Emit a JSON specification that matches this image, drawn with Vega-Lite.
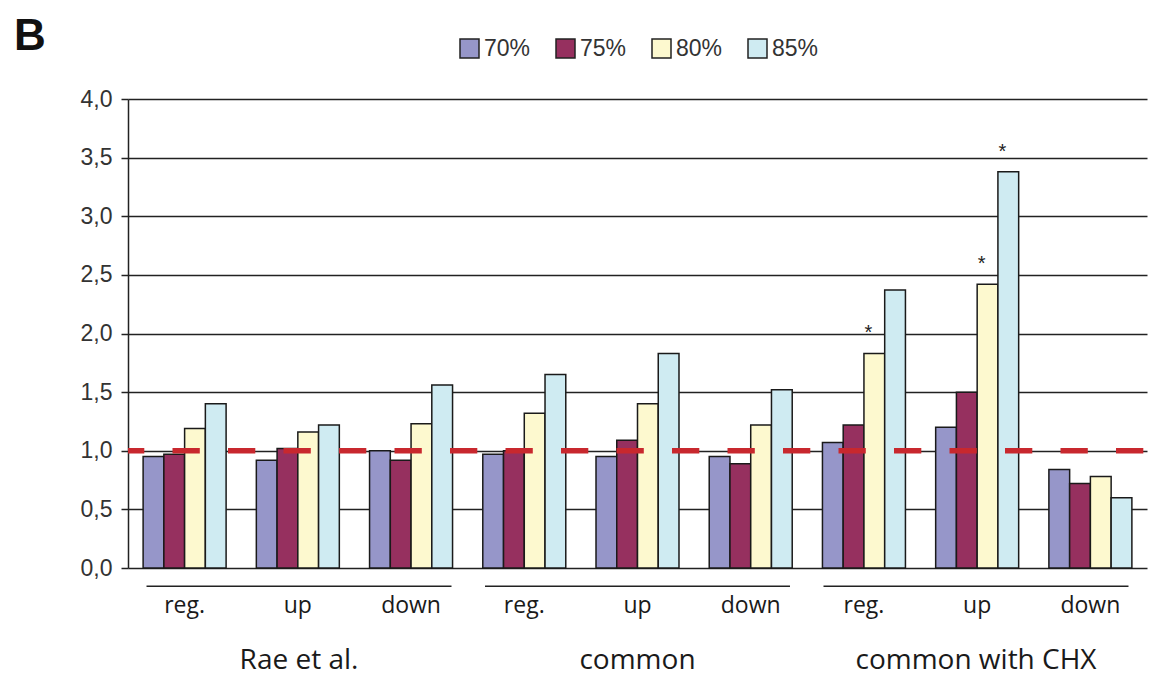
{
  "$schema": "https://vega.github.io/schema/vega-lite/v6.json",
  "width": 1019,
  "height": 469,
  "autosize": "none",
  "padding": {"left": 128, "top": 99, "right": 8, "bottom": 109},
  "background": "white",
  "title": {
    "text": "B",
    "anchor": "start",
    "frame": "group",
    "dx": -114,
    "dy": 49,
    "offset": 27,
    "fontSize": 44,
    "font": "Liberation Sans",
    "fontWeight": "bold",
    "color": "#111"
  },
  "datasets": {
    "bars": [
      {"group": "Rae et al.", "sub": "Rae et al.|reg.", "conc": "70%", "value": 0.95, "sig": false},
      {"group": "Rae et al.", "sub": "Rae et al.|reg.", "conc": "75%", "value": 0.97, "sig": false},
      {"group": "Rae et al.", "sub": "Rae et al.|reg.", "conc": "80%", "value": 1.19, "sig": false},
      {"group": "Rae et al.", "sub": "Rae et al.|reg.", "conc": "85%", "value": 1.40, "sig": false},
      {"group": "Rae et al.", "sub": "Rae et al.|up", "conc": "70%", "value": 0.92, "sig": false},
      {"group": "Rae et al.", "sub": "Rae et al.|up", "conc": "75%", "value": 1.02, "sig": false},
      {"group": "Rae et al.", "sub": "Rae et al.|up", "conc": "80%", "value": 1.16, "sig": false},
      {"group": "Rae et al.", "sub": "Rae et al.|up", "conc": "85%", "value": 1.22, "sig": false},
      {"group": "Rae et al.", "sub": "Rae et al.|down", "conc": "70%", "value": 1.00, "sig": false},
      {"group": "Rae et al.", "sub": "Rae et al.|down", "conc": "75%", "value": 0.92, "sig": false},
      {"group": "Rae et al.", "sub": "Rae et al.|down", "conc": "80%", "value": 1.23, "sig": false},
      {"group": "Rae et al.", "sub": "Rae et al.|down", "conc": "85%", "value": 1.56, "sig": false},
      {"group": "common", "sub": "common|reg.", "conc": "70%", "value": 0.97, "sig": false},
      {"group": "common", "sub": "common|reg.", "conc": "75%", "value": 1.00, "sig": false},
      {"group": "common", "sub": "common|reg.", "conc": "80%", "value": 1.32, "sig": false},
      {"group": "common", "sub": "common|reg.", "conc": "85%", "value": 1.65, "sig": false},
      {"group": "common", "sub": "common|up", "conc": "70%", "value": 0.95, "sig": false},
      {"group": "common", "sub": "common|up", "conc": "75%", "value": 1.09, "sig": false},
      {"group": "common", "sub": "common|up", "conc": "80%", "value": 1.40, "sig": false},
      {"group": "common", "sub": "common|up", "conc": "85%", "value": 1.83, "sig": false},
      {"group": "common", "sub": "common|down", "conc": "70%", "value": 0.95, "sig": false},
      {"group": "common", "sub": "common|down", "conc": "75%", "value": 0.89, "sig": false},
      {"group": "common", "sub": "common|down", "conc": "80%", "value": 1.22, "sig": false},
      {"group": "common", "sub": "common|down", "conc": "85%", "value": 1.52, "sig": false},
      {"group": "common with CHX", "sub": "common with CHX|reg.", "conc": "70%", "value": 1.07, "sig": false},
      {"group": "common with CHX", "sub": "common with CHX|reg.", "conc": "75%", "value": 1.22, "sig": false},
      {"group": "common with CHX", "sub": "common with CHX|reg.", "conc": "80%", "value": 1.83, "sig": true},
      {"group": "common with CHX", "sub": "common with CHX|reg.", "conc": "85%", "value": 2.37, "sig": false},
      {"group": "common with CHX", "sub": "common with CHX|up", "conc": "70%", "value": 1.20, "sig": false},
      {"group": "common with CHX", "sub": "common with CHX|up", "conc": "75%", "value": 1.50, "sig": false},
      {"group": "common with CHX", "sub": "common with CHX|up", "conc": "80%", "value": 2.42, "sig": true},
      {"group": "common with CHX", "sub": "common with CHX|up", "conc": "85%", "value": 3.38, "sig": true},
      {"group": "common with CHX", "sub": "common with CHX|down", "conc": "70%", "value": 0.84, "sig": false},
      {"group": "common with CHX", "sub": "common with CHX|down", "conc": "75%", "value": 0.72, "sig": false},
      {"group": "common with CHX", "sub": "common with CHX|down", "conc": "80%", "value": 0.78, "sig": false},
      {"group": "common with CHX", "sub": "common with CHX|down", "conc": "85%", "value": 0.60, "sig": false}
    ],
    "groups": [
      {"group": "Rae et al."},
      {"group": "common"},
      {"group": "common with CHX"}
    ]
  },
  "layer": [
    {
      "data": {"name": "bars"},
      "layer": [
        {
          "mark": {"type": "bar", "stroke": "#1a1a1a", "strokeWidth": 1.5},
          "encoding": {
            "x": {
              "field": "sub",
              "type": "nominal",
              "sort": null,
              "scale": {"paddingInner": 0.267, "paddingOuter": 0.1335},
              "axis": {
                "orient": "bottom",
                "title": null,
                "domain": false,
                "ticks": false,
                "labelAngle": 0,
                "labelExpr": "split(datum.label, '|')[1]",
                "labelFont": "Open Sans",
                "labelFontSize": 23,
                "labelColor": "#1a1a1a",
                "labelPadding": 26,
                "labelLimit": 0
              }
            },
            "xOffset": {
              "field": "conc",
              "type": "nominal",
              "sort": ["70%", "75%", "80%", "85%"],
              "scale": {"paddingInner": 0, "paddingOuter": 0}
            },
            "y": {
              "field": "value",
              "type": "quantitative",
              "scale": {"domain": [0, 4], "nice": false},
              "axis": {
                "title": null,
                "values": [0, 0.5, 1, 1.5, 2, 2.5, 3, 3.5, 4],
                "labelExpr": "replace(format(datum.value, '.1f'), '.', ',')",
                "grid": true,
                "gridColor": "#222",
                "gridWidth": 1.5,
                "domainColor": "#222",
                "domainWidth": 1.5,
                "tickColor": "#222",
                "tickWidth": 1.5,
                "tickSize": 7,
                "labelPadding": 9,
                "labelFont": "Liberation Sans",
                "labelFontSize": 23,
                "labelColor": "#333"
              }
            },
            "color": {
              "field": "conc",
              "type": "nominal",
              "scale": {
                "domain": ["70%", "75%", "80%", "85%"],
                "range": ["#9696c9", "#96305f", "#fdf9cf", "#cfebf2"]
              },
              "legend": {
                "title": null,
                "orient": "none",
                "legendX": 330,
                "legendY": -62,
                "direction": "horizontal",
                "symbolType": "square",
                "symbolSize": 361,
                "symbolStrokeColor": "#222",
                "symbolStrokeWidth": 1.5,
                "labelFont": "Liberation Sans",
                "labelFontSize": 23,
                "labelColor": "#333",
                "labelOffset": 3,
                "columnPadding": 22
              }
            }
          }
        },
        {
          "transform": [{"filter": "datum.sig"}],
          "mark": {
            "type": "text",
            "text": "*",
            "font": "Liberation Sans",
            "fontSize": 20,
            "color": "#222",
            "align": "center",
            "baseline": "alphabetic",
            "dx": -6,
            "dy": -14
          },
          "encoding": {
            "x": {"field": "sub", "type": "nominal", "sort": null},
            "xOffset": {"field": "conc", "type": "nominal", "sort": ["70%", "75%", "80%", "85%"]},
            "y": {"field": "value", "type": "quantitative"}
          }
        }
      ]
    },
    {
      "data": {"values": [{"level": 1}]},
      "mark": {
        "type": "rule",
        "color": "#c8282e",
        "strokeWidth": 5.5,
        "strokeDash": [27.3, 28.2],
        "strokeDashOffset": 51.8
      },
      "encoding": {
        "y": {"field": "level", "type": "quantitative"}
      }
    },
    {
      "data": {"name": "groups"},
      "mark": {"type": "bar", "color": "#222"},
      "encoding": {
        "x": {
          "field": "group",
          "type": "nominal",
          "sort": null,
          "scale": {"paddingInner": 0.099, "paddingOuter": 0.0547},
          "axis": {
            "orient": "bottom",
            "title": null,
            "domain": false,
            "ticks": false,
            "labelAngle": 0,
            "labelFont": "Open Sans",
            "labelFontSize": 28,
            "labelColor": "#1a1a1a",
            "labelPadding": 78,
            "labelLimit": 0
          }
        },
        "y": {"datum": -0.15},
        "y2": {"datum": -0.162}
      }
    }
  ],
  "resolve": {"scale": {"x": "independent"}, "axis": {"x": "independent"}},
  "config": {
    "view": {"stroke": null}
  }
}
